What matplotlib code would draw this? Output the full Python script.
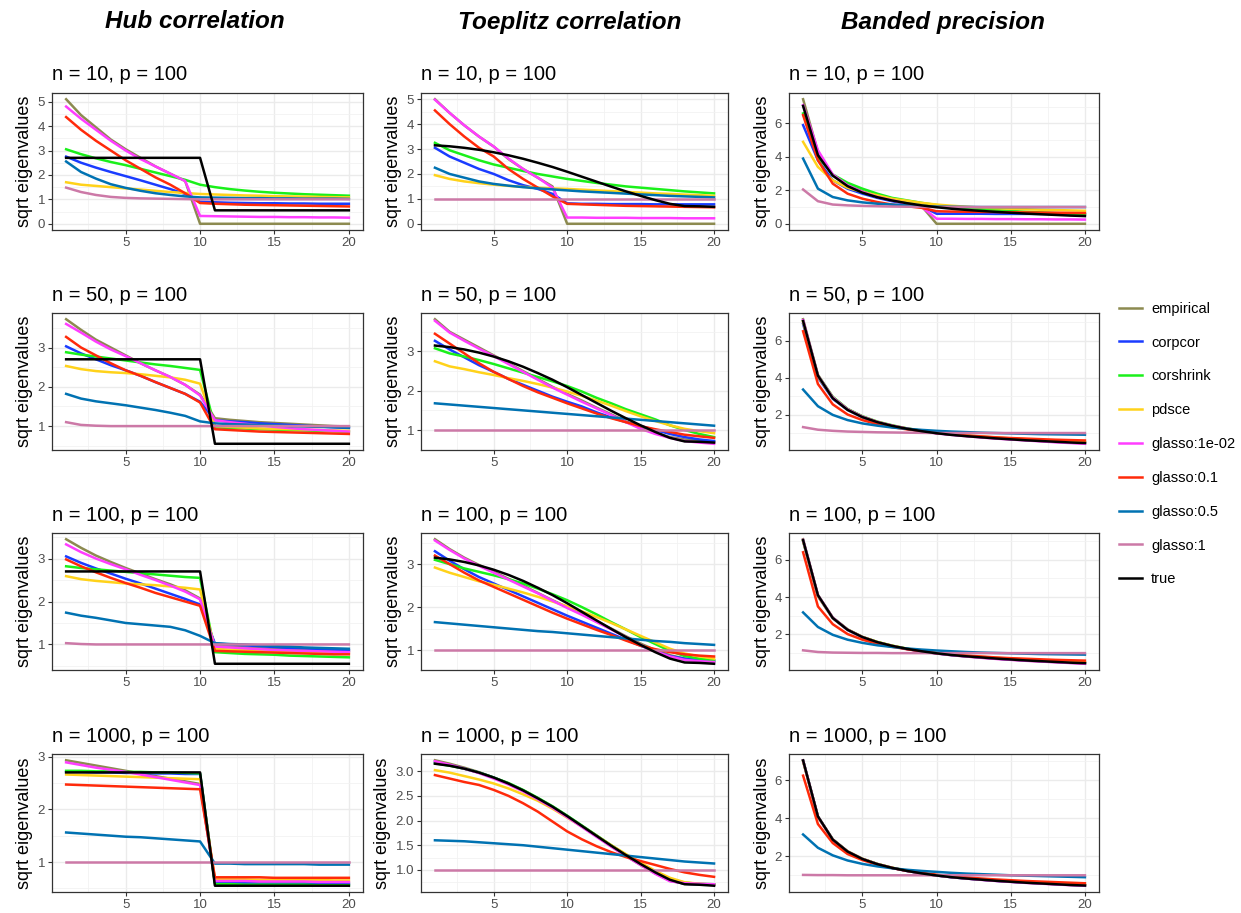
import numpy as np
import matplotlib.pyplot as plt
from matplotlib.lines import Line2D
from matplotlib.ticker import AutoMinorLocator, FixedLocator

plt.rcParams['font.family'] = ['Liberation Sans', 'DejaVu Sans']

# x axis: eigenvalue index
idx = list(range(1, 21))

methods = ['empirical', 'corpcor', 'corshrink', 'pdsce', 'glasso:1e-02',
           'glasso:0.1', 'glasso:0.5', 'glasso:1', 'true']
colors = ['#8C8A50', '#1A3CFF', '#1AF01A', '#FFD21A', '#FF3DFF',
          '#FF2A0A', '#0072B2', '#CC79A7', '#000000']

col_titles = ['Hub correlation', 'Toeplitz correlation', 'Banded precision']
n_values = [10, 50, 100, 1000]

# truth (same for every n)
true_hub = [2.7, 2.7, 2.7, 2.7, 2.7, 2.7, 2.7, 2.7, 2.7, 2.7,
            0.55, 0.55, 0.55, 0.55, 0.55, 0.55, 0.55, 0.55, 0.55, 0.55]
true_toep = [3.15, 3.11, 3.05, 2.97, 2.87, 2.75, 2.61, 2.45, 2.28, 2.09,
             1.89, 1.69, 1.49, 1.3, 1.12, 0.95, 0.8, 0.71, 0.7, 0.68]
true_band = [7.05, 4.1, 2.88, 2.25, 1.86, 1.59, 1.39, 1.23, 1.1, 0.99,
             0.9, 0.83, 0.77, 0.71, 0.66, 0.61, 0.57, 0.53, 0.49, 0.46]

# each panel: rows in the order of `methods` (without true)
hub_10 = [
    [5.1, 4.45, 3.95, 3.45, 3.05, 2.7, 2.35, 2.05, 1.75, 0, 0, 0, 0, 0, 0, 0, 0, 0, 0, 0],
    [2.75, 2.5, 2.3, 2.12, 1.95, 1.78, 1.6, 1.42, 1.22, 0.9, 0.88, 0.86, 0.85, 0.84, 0.84, 0.83, 0.83, 0.82, 0.82, 0.82],
    [3.05, 2.85, 2.68, 2.53, 2.4, 2.25, 2.1, 1.95, 1.8, 1.6, 1.5, 1.42, 1.36, 1.31, 1.27, 1.24, 1.21, 1.19, 1.17, 1.15],
    [1.7, 1.6, 1.55, 1.5, 1.45, 1.4, 1.35, 1.3, 1.26, 1.22, 1.2, 1.18, 1.16, 1.15, 1.13, 1.12, 1.11, 1.1, 1.09, 1.08],
    [4.8, 4.3, 3.85, 3.4, 3.0, 2.65, 2.35, 2.05, 1.75, 0.32, 0.31, 0.3, 0.29, 0.28, 0.28, 0.27, 0.27, 0.26, 0.26, 0.25],
    [4.37, 3.85, 3.4, 3.0, 2.6, 2.25, 1.9, 1.6, 1.25, 0.85, 0.82, 0.8, 0.78, 0.77, 0.76, 0.75, 0.74, 0.73, 0.72, 0.71],
    [2.55, 2.12, 1.85, 1.62, 1.47, 1.35, 1.25, 1.18, 1.12, 1.08, 1.07, 1.06, 1.05, 1.05, 1.04, 1.04, 1.03, 1.03, 1.03, 1.02],
    [1.48, 1.3, 1.18, 1.1, 1.06, 1.04, 1.03, 1.02, 1.01, 1.0, 1.0, 1.0, 1.0, 1.0, 1.0, 1.0, 1.0, 1.0, 1.0, 1.0],
]
toep_10 = [
    [5.0, 4.45, 3.95, 3.5, 3.1, 2.6, 2.2, 1.85, 1.5, 0, 0, 0, 0, 0, 0, 0, 0, 0, 0, 0],
    [3.05, 2.7, 2.45, 2.2, 2.0, 1.75, 1.55, 1.4, 1.2, 0.82, 0.8, 0.8, 0.79, 0.79, 0.79, 0.78, 0.78, 0.78, 0.78, 0.78],
    [3.25, 2.95, 2.75, 2.55, 2.38, 2.25, 2.12, 2.0, 1.9, 1.8, 1.72, 1.64, 1.57, 1.5, 1.45, 1.4, 1.35, 1.3, 1.26, 1.22],
    [1.95, 1.8, 1.7, 1.63, 1.57, 1.52, 1.48, 1.45, 1.42, 1.4, 1.37, 1.34, 1.31, 1.28, 1.25, 1.22, 1.2, 1.17, 1.15, 1.12],
    [4.98, 4.45, 3.95, 3.5, 3.1, 2.62, 2.2, 1.85, 1.45, 0.25, 0.25, 0.24, 0.24, 0.24, 0.23, 0.23, 0.23, 0.22, 0.22, 0.22],
    [4.55, 4.0, 3.5, 3.05, 2.7, 2.2, 1.8, 1.45, 1.1, 0.8, 0.78, 0.76, 0.74, 0.72, 0.71, 0.7, 0.69, 0.68, 0.67, 0.66],
    [2.25, 2.0, 1.85, 1.7, 1.6, 1.53, 1.47, 1.42, 1.38, 1.34, 1.3, 1.27, 1.24, 1.21, 1.18, 1.15, 1.12, 1.1, 1.08, 1.06],
    [1.0, 1.0, 1.0, 1.0, 1.0, 1.0, 1.0, 1.0, 1.0, 1.0, 1.0, 1.0, 1.0, 1.0, 1.0, 1.0, 1.0, 1.0, 1.0, 1.0],
]
band_10 = [
    [7.45, 4.3, 2.9, 2.3, 1.95, 1.65, 1.4, 1.25, 1.05, 0, 0, 0, 0, 0, 0, 0, 0, 0, 0, 0],
    [5.9, 3.8, 2.6, 2.1, 1.8, 1.55, 1.35, 1.2, 1.05, 0.6, 0.6, 0.6, 0.6, 0.59, 0.59, 0.59, 0.59, 0.58, 0.58, 0.58],
    [6.6, 4.0, 2.95, 2.45, 2.1, 1.8, 1.55, 1.4, 1.25, 1.12, 1.02, 0.95, 0.88, 0.82, 0.77, 0.72, 0.68, 0.64, 0.6, 0.56],
    [4.9, 3.4, 2.6, 2.15, 1.9, 1.7, 1.5, 1.38, 1.25, 1.15, 1.08, 1.02, 0.97, 0.93, 0.9, 0.87, 0.84, 0.82, 0.8, 0.78],
    [7.1, 4.4, 2.95, 2.3, 1.9, 1.6, 1.4, 1.2, 1.0, 0.3, 0.3, 0.29, 0.29, 0.28, 0.28, 0.27, 0.27, 0.26, 0.26, 0.25],
    [6.5, 3.8, 2.4, 1.8, 1.5, 1.3, 1.15, 1.05, 0.95, 0.75, 0.73, 0.72, 0.71, 0.7, 0.69, 0.68, 0.67, 0.66, 0.65, 0.64],
    [3.9, 2.1, 1.6, 1.4, 1.28, 1.2, 1.15, 1.1, 1.06, 1.03, 1.02, 1.01, 1.0, 1.0, 1.0, 1.0, 1.0, 1.0, 1.0, 1.0],
    [2.05, 1.35, 1.15, 1.1, 1.07, 1.05, 1.03, 1.02, 1.01, 1.0, 1.0, 1.0, 1.0, 1.0, 1.0, 1.0, 1.0, 1.0, 1.0, 1.0],
]
hub_50 = [
    [3.72, 3.45, 3.2, 3.0, 2.8, 2.6, 2.42, 2.25, 2.05, 1.8, 1.2, 1.16, 1.13, 1.1, 1.08, 1.06, 1.04, 1.02, 1.0, 0.99],
    [3.03, 2.85, 2.7, 2.55, 2.42, 2.28, 2.12, 1.97, 1.82, 1.62, 1.15, 1.12, 1.1, 1.07, 1.05, 1.03, 1.01, 0.99, 0.97, 0.95],
    [2.88, 2.82, 2.77, 2.72, 2.67, 2.62, 2.57, 2.53, 2.48, 2.43, 0.97, 0.95, 0.94, 0.92, 0.91, 0.9, 0.89, 0.88, 0.87, 0.86],
    [2.53, 2.45, 2.4, 2.37, 2.35, 2.32, 2.28, 2.24, 2.18, 2.08, 1.0, 0.98, 0.96, 0.94, 0.93, 0.92, 0.91, 0.9, 0.89, 0.88],
    [3.6, 3.38, 3.15, 2.95, 2.78, 2.6, 2.42, 2.25, 2.05, 1.78, 1.15, 1.1, 1.06, 1.02, 0.98, 0.95, 0.92, 0.9, 0.88, 0.86],
    [3.27, 3.0, 2.8, 2.6, 2.42, 2.28, 2.12, 1.97, 1.82, 1.6, 0.92, 0.9, 0.88, 0.86, 0.85, 0.84, 0.83, 0.82, 0.81, 0.8],
    [1.82, 1.7, 1.63, 1.58, 1.53, 1.47, 1.41, 1.34, 1.26, 1.12, 1.07, 1.05, 1.04, 1.03, 1.02, 1.0, 0.99, 0.98, 0.97, 0.96],
    [1.1, 1.03, 1.01, 1.0, 1.0, 1.0, 1.0, 1.0, 1.0, 1.0, 1.0, 1.0, 1.0, 1.0, 1.0, 1.0, 1.0, 1.0, 1.0, 1.0],
]
toep_50 = [
    [3.82, 3.5, 3.3, 3.1, 2.9, 2.7, 2.5, 2.3, 2.1, 1.92, 1.75, 1.57, 1.4, 1.22, 1.05, 0.92, 0.82, 0.76, 0.73, 0.7],
    [3.27, 3.05, 2.85, 2.65, 2.48, 2.3, 2.15, 2.0, 1.85, 1.72, 1.6, 1.45, 1.32, 1.2, 1.1, 1.0, 0.9, 0.82, 0.76, 0.72],
    [3.08, 2.95, 2.87, 2.78, 2.68, 2.57, 2.46, 2.35, 2.24, 2.12, 1.98, 1.82, 1.68, 1.53, 1.4, 1.27, 1.12, 1.0, 0.9, 0.82],
    [2.75, 2.62, 2.55, 2.47, 2.4, 2.32, 2.25, 2.17, 2.08, 1.98, 1.87, 1.75, 1.62, 1.48, 1.35, 1.23, 1.12, 1.03, 0.97, 0.92],
    [3.78, 3.48, 3.27, 3.07, 2.88, 2.68, 2.48, 2.28, 2.08, 1.9, 1.72, 1.55, 1.38, 1.2, 1.03, 0.9, 0.8, 0.72, 0.68, 0.65],
    [3.45, 3.2, 2.95, 2.7, 2.48, 2.3, 2.12, 1.96, 1.82, 1.68, 1.55, 1.42, 1.3, 1.2, 1.1, 1.02, 0.95, 0.88, 0.84, 0.8],
    [1.68, 1.65, 1.62, 1.59, 1.56, 1.53, 1.5, 1.47, 1.44, 1.41, 1.38, 1.35, 1.32, 1.29, 1.26, 1.23, 1.2, 1.17, 1.14, 1.11],
    [1.0, 1.0, 1.0, 1.0, 1.0, 1.0, 1.0, 1.0, 1.0, 1.0, 1.0, 1.0, 1.0, 1.0, 1.0, 1.0, 1.0, 1.0, 1.0, 1.0],
]
band_50 = [
    [7.15, 4.15, 2.95, 2.3, 1.9, 1.6, 1.4, 1.25, 1.12, 1.0, 0.92, 0.85, 0.78, 0.72, 0.67, 0.62, 0.57, 0.52, 0.48, 0.44],
    [6.9, 4.0, 2.85, 2.25, 1.85, 1.58, 1.38, 1.22, 1.1, 1.0, 0.92, 0.85, 0.79, 0.73, 0.68, 0.63, 0.59, 0.55, 0.51, 0.47],
    [7.05, 4.1, 2.95, 2.3, 1.9, 1.62, 1.42, 1.25, 1.12, 1.0, 0.92, 0.85, 0.79, 0.73, 0.68, 0.63, 0.59, 0.55, 0.51, 0.48],
    [7.0, 4.05, 2.9, 2.27, 1.87, 1.6, 1.4, 1.24, 1.12, 1.02, 0.94, 0.87, 0.81, 0.76, 0.71, 0.67, 0.63, 0.59, 0.56, 0.53],
    [7.1, 4.1, 2.92, 2.28, 1.88, 1.6, 1.4, 1.24, 1.1, 0.98, 0.9, 0.83, 0.76, 0.7, 0.65, 0.6, 0.55, 0.5, 0.46, 0.42],
    [6.5, 3.65, 2.55, 2.0, 1.7, 1.48, 1.32, 1.2, 1.1, 1.0, 0.93, 0.87, 0.82, 0.77, 0.73, 0.7, 0.67, 0.64, 0.62, 0.6],
    [3.35, 2.45, 1.98, 1.7, 1.52, 1.4, 1.3, 1.23, 1.17, 1.12, 1.08, 1.05, 1.02, 1.0, 0.98, 0.96, 0.94, 0.93, 0.92, 0.91],
    [1.32, 1.18, 1.12, 1.08, 1.06, 1.04, 1.03, 1.02, 1.01, 1.0, 1.0, 1.0, 1.0, 1.0, 1.0, 1.0, 1.0, 1.0, 1.0, 1.0],
]
hub_100 = [
    [3.45, 3.25, 3.07, 2.92, 2.78, 2.65, 2.52, 2.4, 2.26, 2.07, 0.97, 0.95, 0.93, 0.91, 0.9, 0.89, 0.88, 0.87, 0.86, 0.85],
    [3.05, 2.9, 2.77, 2.65, 2.53, 2.42, 2.3, 2.18, 2.06, 1.93, 1.02, 1.0, 0.98, 0.96, 0.94, 0.92, 0.91, 0.89, 0.88, 0.86],
    [2.82, 2.78, 2.75, 2.72, 2.69, 2.66, 2.63, 2.6, 2.57, 2.55, 0.82, 0.8, 0.78, 0.77, 0.76, 0.74, 0.73, 0.72, 0.71, 0.7],
    [2.59, 2.52, 2.48, 2.45, 2.42, 2.4, 2.38, 2.35, 2.32, 2.28, 0.9, 0.88, 0.87, 0.86, 0.85, 0.84, 0.83, 0.82, 0.81, 0.8],
    [3.33, 3.15, 3.0, 2.87, 2.75, 2.62, 2.5, 2.37, 2.23, 2.05, 0.95, 0.93, 0.91, 0.89, 0.87, 0.86, 0.85, 0.84, 0.83, 0.82],
    [2.98, 2.82, 2.68, 2.55, 2.43, 2.32, 2.2, 2.1, 2.0, 1.9, 0.85, 0.84, 0.83, 0.82, 0.81, 0.8, 0.79, 0.78, 0.77, 0.77],
    [1.74, 1.67, 1.62, 1.56, 1.5, 1.47, 1.44, 1.41, 1.33, 1.2, 1.03, 1.01, 1.0, 0.98, 0.96, 0.95, 0.93, 0.92, 0.91, 0.9],
    [1.03, 1.01, 1.0, 1.0, 1.0, 1.0, 1.0, 1.0, 1.0, 1.0, 1.0, 1.0, 1.0, 1.0, 1.0, 1.0, 1.0, 1.0, 1.0, 1.0],
]
toep_100 = [
    [3.58, 3.35, 3.15, 2.98, 2.82, 2.66, 2.5, 2.33, 2.16, 2.0, 1.84, 1.67, 1.5, 1.32, 1.15, 1.0, 0.88, 0.8, 0.76, 0.73],
    [3.3, 3.08, 2.88, 2.7, 2.55, 2.4, 2.25, 2.1, 1.95, 1.8, 1.66, 1.52, 1.38, 1.24, 1.1, 0.97, 0.86, 0.8, 0.77, 0.75],
    [3.1, 3.0, 2.9, 2.82, 2.74, 2.65, 2.55, 2.43, 2.3, 2.16, 2.0, 1.83, 1.65, 1.48, 1.3, 1.14, 0.98, 0.86, 0.8, 0.76],
    [2.92, 2.8, 2.7, 2.6, 2.52, 2.43, 2.34, 2.24, 2.13, 2.02, 1.9, 1.77, 1.63, 1.48, 1.33, 1.18, 1.03, 0.92, 0.85, 0.8],
    [3.55, 3.33, 3.13, 2.96, 2.8, 2.64, 2.48, 2.32, 2.15, 1.98, 1.82, 1.65, 1.48, 1.3, 1.12, 0.97, 0.85, 0.77, 0.74, 0.72],
    [3.2, 3.0, 2.8, 2.62, 2.47, 2.32, 2.17, 2.02, 1.87, 1.73, 1.6, 1.47, 1.35, 1.22, 1.1, 1.02, 0.95, 0.9, 0.87, 0.85],
    [1.65, 1.62, 1.59, 1.56, 1.53, 1.5, 1.47, 1.44, 1.42, 1.39, 1.36, 1.33, 1.3, 1.27, 1.24, 1.21, 1.19, 1.16, 1.14, 1.12],
    [1.0, 1.0, 1.0, 1.0, 1.0, 1.0, 1.0, 1.0, 1.0, 1.0, 1.0, 1.0, 1.0, 1.0, 1.0, 1.0, 1.0, 1.0, 1.0, 1.0],
]
band_100 = [
    [7.1, 4.12, 2.9, 2.26, 1.86, 1.58, 1.38, 1.22, 1.09, 0.98, 0.89, 0.82, 0.76, 0.7, 0.65, 0.6, 0.56, 0.52, 0.48, 0.45],
    [7.0, 4.05, 2.87, 2.24, 1.85, 1.58, 1.38, 1.22, 1.1, 0.99, 0.9, 0.83, 0.77, 0.71, 0.66, 0.62, 0.58, 0.54, 0.5, 0.47],
    [7.02, 4.08, 2.9, 2.27, 1.87, 1.6, 1.4, 1.24, 1.11, 1.0, 0.91, 0.84, 0.78, 0.72, 0.67, 0.62, 0.58, 0.54, 0.5, 0.47],
    [7.0, 4.05, 2.88, 2.26, 1.87, 1.6, 1.4, 1.24, 1.12, 1.01, 0.93, 0.86, 0.8, 0.75, 0.7, 0.66, 0.62, 0.58, 0.55, 0.52],
    [7.06, 4.1, 2.9, 2.26, 1.86, 1.58, 1.38, 1.22, 1.09, 0.98, 0.89, 0.82, 0.75, 0.69, 0.64, 0.59, 0.55, 0.51, 0.47, 0.43],
    [6.4, 3.5, 2.55, 2.02, 1.72, 1.5, 1.34, 1.21, 1.1, 1.0, 0.93, 0.87, 0.82, 0.77, 0.73, 0.7, 0.67, 0.64, 0.62, 0.6],
    [3.18, 2.4, 1.98, 1.72, 1.55, 1.42, 1.33, 1.25, 1.19, 1.14, 1.1, 1.06, 1.03, 1.01, 0.99, 0.97, 0.95, 0.94, 0.93, 0.92],
    [1.15, 1.06, 1.03, 1.02, 1.01, 1.01, 1.0, 1.0, 1.0, 1.0, 1.0, 1.0, 1.0, 1.0, 1.0, 1.0, 1.0, 1.0, 1.0, 1.0],
]
hub_1000 = [
    [2.93, 2.88, 2.83, 2.78, 2.73, 2.68, 2.63, 2.58, 2.53, 2.48, 0.62, 0.62, 0.62, 0.61, 0.61, 0.61, 0.6, 0.6, 0.6, 0.6],
    [2.71, 2.71, 2.7, 2.7, 2.69, 2.69, 2.68, 2.68, 2.67, 2.67, 0.6, 0.6, 0.6, 0.59, 0.59, 0.59, 0.59, 0.58, 0.58, 0.58],
    [2.73, 2.73, 2.72, 2.72, 2.71, 2.71, 2.7, 2.7, 2.69, 2.68, 0.58, 0.58, 0.57, 0.57, 0.57, 0.57, 0.57, 0.56, 0.56, 0.56],
    [2.66, 2.65, 2.64, 2.63, 2.62, 2.61, 2.6, 2.59, 2.58, 2.57, 0.67, 0.67, 0.67, 0.66, 0.66, 0.66, 0.66, 0.66, 0.65, 0.65],
    [2.89, 2.84, 2.79, 2.75, 2.71, 2.66, 2.61, 2.56, 2.51, 2.46, 0.64, 0.64, 0.64, 0.63, 0.63, 0.63, 0.63, 0.62, 0.62, 0.62],
    [2.47, 2.46, 2.45, 2.44, 2.43, 2.42, 2.41, 2.4, 2.39, 2.38, 0.71, 0.71, 0.71, 0.71, 0.7, 0.7, 0.7, 0.7, 0.7, 0.7],
    [1.56, 1.54, 1.52, 1.5, 1.48, 1.47, 1.45, 1.43, 1.41, 1.39, 0.97, 0.97, 0.96, 0.96, 0.96, 0.96, 0.96, 0.95, 0.95, 0.95],
    [1.0, 1.0, 1.0, 1.0, 1.0, 1.0, 1.0, 1.0, 1.0, 1.0, 1.0, 1.0, 1.0, 1.0, 1.0, 1.0, 1.0, 1.0, 1.0, 1.0],
]
toep_1000 = [
    [3.22, 3.15, 3.07, 2.98, 2.87, 2.75, 2.61, 2.45, 2.27, 2.08, 1.88, 1.68, 1.48, 1.28, 1.1, 0.93, 0.78, 0.72, 0.71, 0.7],
    [3.18, 3.12, 3.05, 2.97, 2.87, 2.75, 2.61, 2.45, 2.28, 2.09, 1.89, 1.69, 1.49, 1.3, 1.12, 0.94, 0.79, 0.72, 0.71, 0.7],
    [3.16, 3.11, 3.05, 2.97, 2.87, 2.76, 2.62, 2.46, 2.29, 2.1, 1.9, 1.7, 1.5, 1.31, 1.13, 0.96, 0.82, 0.74, 0.72, 0.71],
    [3.02, 2.97, 2.9, 2.83, 2.75, 2.65, 2.53, 2.4, 2.24, 2.06, 1.88, 1.69, 1.5, 1.32, 1.15, 0.98, 0.84, 0.75, 0.72, 0.7],
    [3.2, 3.13, 3.05, 2.96, 2.85, 2.73, 2.59, 2.43, 2.26, 2.07, 1.87, 1.67, 1.47, 1.28, 1.1, 0.92, 0.77, 0.73, 0.72, 0.71],
    [2.92, 2.85, 2.78, 2.72, 2.62, 2.5, 2.35, 2.18, 1.98, 1.78, 1.62, 1.48, 1.36, 1.26, 1.18, 1.1, 1.02, 0.95, 0.9, 0.86],
    [1.6, 1.59, 1.58, 1.56, 1.54, 1.52, 1.5, 1.47, 1.44, 1.41, 1.38, 1.35, 1.32, 1.29, 1.26, 1.23, 1.2, 1.17, 1.15, 1.13],
    [1.0, 1.0, 1.0, 1.0, 1.0, 1.0, 1.0, 1.0, 1.0, 1.0, 1.0, 1.0, 1.0, 1.0, 1.0, 1.0, 1.0, 1.0, 1.0, 1.0],
]
band_1000 = [
    [7.06, 4.1, 2.89, 2.25, 1.86, 1.59, 1.39, 1.23, 1.1, 0.99, 0.9, 0.83, 0.77, 0.71, 0.66, 0.61, 0.57, 0.53, 0.49, 0.46],
    [7.03, 4.08, 2.88, 2.25, 1.86, 1.59, 1.39, 1.23, 1.1, 0.99, 0.9, 0.83, 0.77, 0.71, 0.66, 0.62, 0.58, 0.54, 0.5, 0.47],
    [7.04, 4.09, 2.89, 2.26, 1.87, 1.6, 1.4, 1.24, 1.11, 1.0, 0.91, 0.84, 0.78, 0.72, 0.67, 0.62, 0.58, 0.54, 0.5, 0.47],
    [7.0, 4.07, 2.88, 2.26, 1.87, 1.6, 1.4, 1.24, 1.11, 1.0, 0.92, 0.85, 0.79, 0.73, 0.68, 0.64, 0.6, 0.56, 0.53, 0.5],
    [7.05, 4.09, 2.88, 2.25, 1.86, 1.59, 1.39, 1.23, 1.1, 0.99, 0.9, 0.83, 0.76, 0.7, 0.65, 0.6, 0.56, 0.52, 0.48, 0.45],
    [6.25, 3.7, 2.7, 2.12, 1.8, 1.56, 1.38, 1.24, 1.13, 1.03, 0.95, 0.89, 0.83, 0.78, 0.74, 0.7, 0.67, 0.64, 0.61, 0.58],
    [3.15, 2.45, 2.05, 1.78, 1.6, 1.47, 1.37, 1.29, 1.23, 1.18, 1.13, 1.09, 1.06, 1.03, 1.0, 0.98, 0.96, 0.94, 0.92, 0.9],
    [1.02, 1.01, 1.01, 1.0, 1.0, 1.0, 1.0, 1.0, 1.0, 1.0, 1.0, 1.0, 1.0, 1.0, 1.0, 1.0, 1.0, 1.0, 1.0, 1.0],
]

panels = [[hub_10, toep_10, band_10],
          [hub_50, toep_50, band_50],
          [hub_100, toep_100, band_100],
          [hub_1000, toep_1000, band_1000]]
truths = [true_hub, true_toep, true_band]

# y tick marks per panel
yticks = [[[0, 1, 2, 3, 4, 5], [0, 1, 2, 3, 4, 5], [0, 2, 4, 6]],
          [[1, 2, 3], [1, 2, 3], [2, 4, 6]],
          [[1, 2, 3], [1, 2, 3], [2, 4, 6]],
          [[1, 2, 3], [1.0, 1.5, 2.0, 2.5, 3.0], [2, 4, 6]]]

W, H = 1241, 913
fig = plt.figure(figsize=(W / 100, H / 100), dpi=100)

lefts = [52, 421, 789]
widths = [311, 307, 310]
tops = [93, 313, 533, 754]
heights = [137, 137, 137, 138]

for r in range(4):
    for c in range(3):
        ax = fig.add_axes([lefts[c] / W, 1 - (tops[r] + heights[r]) / H,
                           widths[c] / W, heights[r] / H])
        rows = panels[r][c] + [truths[c]]
        for k, ys in enumerate(rows):
            ax.plot(idx, ys, color=colors[k], lw=1.8, solid_joinstyle='round')
        allv = np.array(rows)
        lo, hi = allv.min(), allv.max()
        pad = 0.05 * (hi - lo)
        ax.set_ylim(lo - pad, hi + pad)
        ax.set_xlim(0.05, 20.95)
        ax.set_xticks([5, 10, 15, 20])
        ax.xaxis.set_minor_locator(FixedLocator([2.5, 7.5, 12.5, 17.5]))
        yt = yticks[r][c]
        ax.set_yticks(yt)
        if r == 3 and c == 1:
            ax.set_yticklabels([f'{v:.1f}' for v in yt])
        else:
            ax.set_yticklabels([f'{v:g}' for v in yt])
        ax.yaxis.set_minor_locator(AutoMinorLocator(2))
        ax.grid(which='major', color='#EBEBEB', lw=1.0)
        ax.grid(which='minor', color='#F2F2F2', lw=0.6)
        ax.set_axisbelow(True)
        ax.tick_params(which='major', length=3, width=0.8, color='#333333',
                       labelsize=9.5, labelcolor='#4D4D4D', pad=2)
        ax.tick_params(which='minor', length=0)
        for s in ax.spines.values():
            s.set_color('#333333')
            s.set_linewidth(0.9)
        ax.set_ylabel('sqrt eigenvalues', fontsize=13, labelpad=3)
        ax.set_title(f'n = {n_values[r]}, p = 100', loc='left', fontsize=14.5, pad=9)

col_centers = [195, 570, 943]
for c in range(3):
    fig.text(col_centers[c] / W, 1 - 22 / H, col_titles[c], ha='center', va='center',
             fontsize=17.5, fontweight='bold', fontstyle='italic')

handles = [Line2D([0], [0], color=colors[k], lw=1.8) for k in range(len(methods))]
fig.legend(handles, methods, loc='center left', bbox_to_anchor=(1106 / W, 1 - 444 / H),
           frameon=False, fontsize=10.5, labelspacing=1.36, handlelength=1.6,
           handletextpad=0.6)

fig.savefig('out.png', dpi=100)
